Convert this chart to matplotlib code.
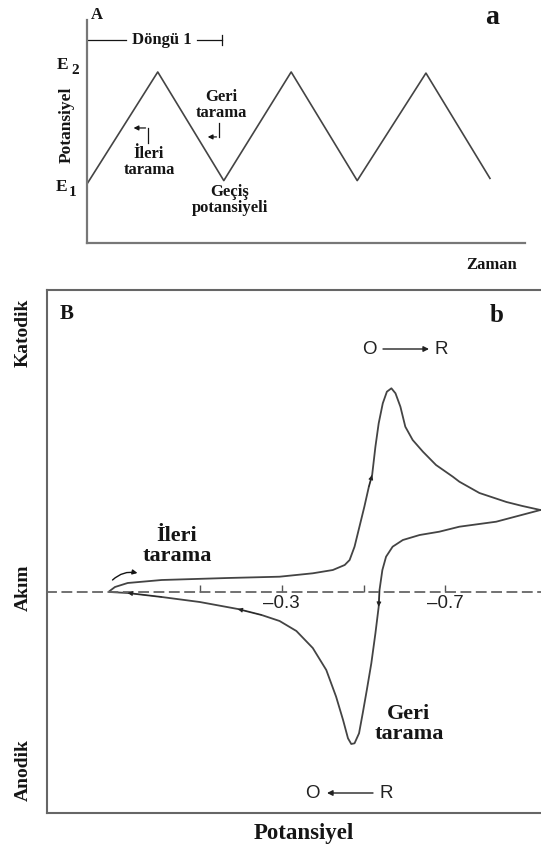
import matplotlib
matplotlib.use('Agg')
import matplotlib.pyplot as plt

plt.rcParams['font.family'] = ['Liberation Serif', 'DejaVu Serif']
plt.rcParams['axes.unicode_minus'] = False

W, H = 541, 849
INK = '#151515'
LINE = '#444444'
AXC = '#777777'

# ---- panel a: triangular potential sweep ----
t_tri = [0, 1.05, 2.03, 3.03, 4.01, 5.03, 5.98]
E_tri = [0.0, 1.0, 0.03, 1.0, 0.03, 0.99, 0.05]

# ---- panel b: cyclic voltammogram (forward / reverse branch) ----
E_fwd = [0.120, 0.107, 0.076, -0.007, -0.168, -0.295, -0.376, -0.425, -0.454,
         -0.466, -0.478, -0.490, -0.502, -0.513, -0.521, -0.529, -0.537, -0.547,
         -0.557, -0.568, -0.578, -0.590, -0.602, -0.620, -0.645, -0.677, -0.718,
         -0.734, -0.783, -0.849, -0.888, -0.932]
i_fwd = [0.01, 0.05, 0.09, 0.12, 0.14, 0.153, 0.187, 0.22, 0.27,
         0.32, 0.453, 0.653, 0.853, 1.053, 1.17, 1.453, 1.687, 1.887,
         2.003, 2.037, 1.987, 1.853, 1.653, 1.52, 1.403, 1.27, 1.153,
         1.103, 0.99, 0.90, 0.86, 0.82]
E_rev = [-0.932, -0.824, -0.734, -0.685, -0.637, -0.596, -0.571, -0.555, -0.546,
         -0.539, -0.537, -0.529, -0.519, -0.508, -0.498, -0.489, -0.478, -0.470,
         -0.462, -0.450, -0.433, -0.409, -0.376, -0.336, -0.295, -0.251, -0.193,
         -0.100, -0.007, 0.076, 0.120]
i_rev = [0.82, 0.703, 0.653, 0.603, 0.57, 0.52, 0.453, 0.353, 0.22,
         0.02, -0.147, -0.413, -0.713, -0.98, -1.213, -1.413, -1.513, -1.52,
         -1.463, -1.28, -1.047, -0.78, -0.56, -0.39, -0.29, -0.23, -0.17,
         -0.10, -0.05, -0.01, 0.00]
tick_pos = [-0.1, -0.3, -0.5, -0.7]
tick_lab = ['', '\u20130.3', '', '\u20130.7']


def fxy(px, py):
    return px / W, 1 - py / H


def ftext(px, py, s, size, **kw):
    x, y = fxy(px, py)
    kw.setdefault('fontweight', 'bold')
    kw.setdefault('color', INK)
    fig.text(x, y, s, fontsize=size, ha='center', va='center', **kw)


fig = plt.figure(figsize=(W / 100, H / 100), dpi=100)

# ================= panel a =================
axa = fig.add_axes([87 / W, 1 - 243 / H, (525 - 87) / W, (243 - 20) / H])
axa.plot(t_tri, E_tri, color=LINE, lw=1.2)
axa.set_xlim(0, 6.5)
axa.set_ylim(-0.527, 1.464)
for s in ['top', 'right']:
    axa.spines[s].set_visible(False)
for s in ['left', 'bottom']:
    axa.spines[s].set_color(AXC)
    axa.spines[s].set_linewidth(1.6)
axa.set_xticks([])
axa.set_yticks([])

# one-cycle bracket
yb = 1.286
axa.plot([0, 0.58], [yb, yb], color=INK, lw=0.9, clip_on=False)
axa.plot([1.63, 2.0], [yb, yb], color=INK, lw=0.9, clip_on=False)
axa.plot([2.0, 2.0], [yb - 0.045, yb + 0.045], color=INK, lw=0.9, clip_on=False)

# elbow arrows for the scan directions
axa.plot([0.905, 0.905], [0.366, 0.5], color=INK, lw=0.9)
axa.annotate('', xy=(0.65, 0.5), xytext=(0.91, 0.5),
             arrowprops=dict(arrowstyle='-|>', color=INK, lw=0.9, mutation_scale=7))
axa.plot([1.958, 1.958], [0.545, 0.42], color=INK, lw=0.9)
axa.annotate('', xy=(1.75, 0.42), xytext=(1.963, 0.42),
             arrowprops=dict(arrowstyle='-|>', color=INK, lw=0.9, mutation_scale=7))

ftext(97, 15, 'A', 12)
ftext(162, 40, 'Döngü 1', 12)
ftext(63, 65, 'E', 12.5)
ftext(75, 71, '2', 11)
ftext(62, 187, 'E', 12.5)
ftext(73, 193, '1', 11)
ftext(67, 125, 'Potansiyel', 12.5, rotation=90)
ftext(221, 105, 'Geri\ntarama', 12, linespacing=0.95)
ftext(149, 162, 'İleri\ntarama', 12, linespacing=0.95)
ftext(230, 200, 'Geçiş\npotansiyeli', 12, linespacing=0.95)
ftext(492, 18, 'a', 20)
ftext(492, 265, 'Zaman', 12)

# ================= panel b =================
axb = fig.add_axes([47 / W, 1 - 813 / H, 1 - 47 / W + 0.002, (813 - 290) / H])
axb.plot(E_fwd, i_fwd, color=LINE, lw=1.3)
axb.plot(E_rev, i_rev, color=LINE, lw=1.3)
axb.set_xlim(0.273, -0.936)
axb.set_ylim(-2.21, 3.02)

axb.spines['right'].set_visible(False)
for s in ['left', 'top']:
    axb.spines[s].set_color('#666666')
    axb.spines[s].set_linewidth(1.5)
axb.spines['bottom'].set_position(('data', 0))
axb.spines['bottom'].set_linestyle((0, (5, 3.5)))
axb.spines['bottom'].set_color('#666666')
axb.spines['bottom'].set_linewidth(1.3)
axb.plot([0, 1], [0, 0], transform=axb.transAxes, color='#666666', lw=1.5,
         clip_on=False)
axb.set_yticks([])
axb.set_xticks(tick_pos, labels=tick_lab)
axb.tick_params(axis='x', direction='in', length=5, width=1.0, color='#555555',
                pad=2, labelsize=13.5, labelcolor='#222222')
for lab in axb.get_xticklabels():
    lab.set_family('Liberation Sans')


# direction markers along the curve
def mark(E, i, k):
    axb.annotate('', xy=(E[k + 1], i[k + 1]), xytext=(E[k], i[k]),
                 arrowprops=dict(arrowstyle='-|>', color='#222222', lw=0.6,
                                 mutation_scale=7, shrinkA=0, shrinkB=0))


mark(E_fwd, i_fwd, 13)
mark(E_rev, i_rev, 9)
mark(E_rev, i_rev, 25)
mark(E_rev, i_rev, 28)

axb.annotate('', xy=(0.052, 0.19), xytext=(0.113, 0.12),
             arrowprops=dict(arrowstyle='-|>', color=INK, lw=1.0, mutation_scale=7,
                             connectionstyle='arc3,rad=-0.25', shrinkA=0, shrinkB=0))

ftext(67, 314, 'B', 15)
ftext(497, 315, 'b', 18)
ftext(23, 333, 'Katodik', 14, rotation=90)
ftext(23, 588, 'Akım', 14, rotation=90)
ftext(23, 770, 'Anodik', 14, rotation=90)
ftext(304, 833, 'Potansiyel', 16.5)
ftext(177, 546, 'İleri\ntarama', 16, linespacing=0.95)
ftext(409, 724, 'Geri\ntarama', 16, linespacing=0.95)

# O -> R reaction labels
sans = dict(fontweight='normal', family='Liberation Sans', color='#222222')
ftext(369, 349, 'O', 13.5, **sans)
ftext(441, 349, 'R', 13.5, **sans)
axb.annotate('', xy=fxy(429, 349), xytext=fxy(383, 349), xycoords='figure fraction',
             arrowprops=dict(arrowstyle='-|>', color='#222222', lw=1.0,
                             mutation_scale=8, shrinkA=0, shrinkB=0))
ftext(312, 793, 'O', 13.5, **sans)
ftext(386, 793, 'R', 13.5, **sans)
axb.annotate('', xy=fxy(327, 793), xytext=fxy(373, 793), xycoords='figure fraction',
             arrowprops=dict(arrowstyle='-|>', color='#222222', lw=1.0,
                             mutation_scale=8, shrinkA=0, shrinkB=0))

fig.savefig('out.png', dpi=100, facecolor='white')
